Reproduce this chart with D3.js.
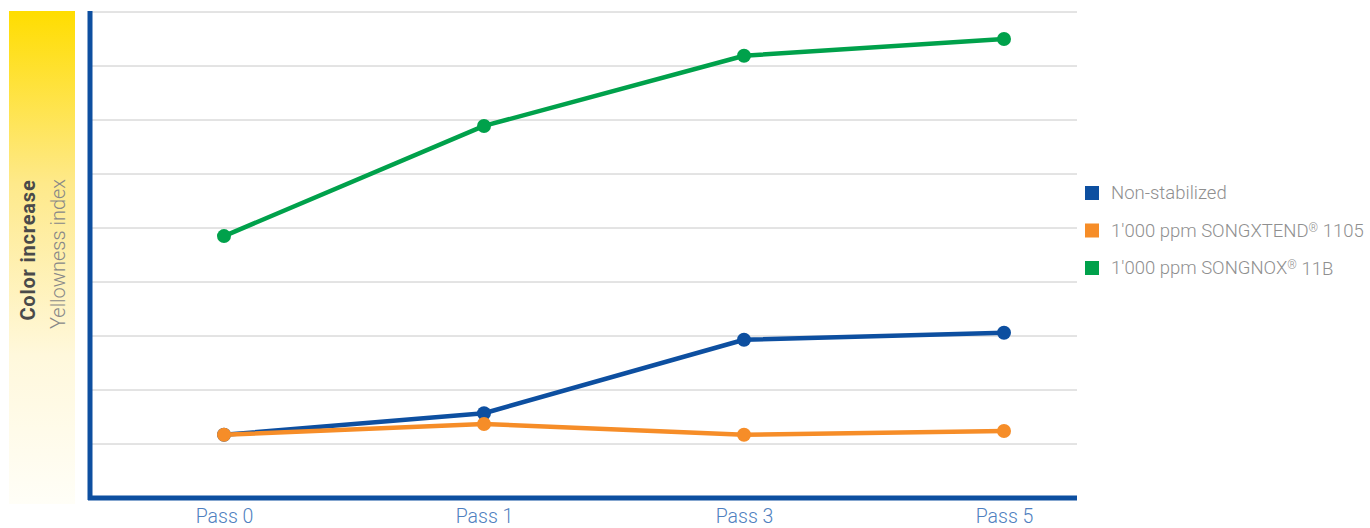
<!DOCTYPE html>
<html><head><meta charset="utf-8">
<script src="https://cdn.jsdelivr.net/npm/d3@7"></script>
<style>
html,body{margin:0;padding:0;background:#fff;}
svg{display:block;font-family:Roboto,"Liberation Sans",Arial,sans-serif;}
</style></head>
<body>
<svg id="c" width="1370" height="528"></svg>
<script>
const categories = ["Pass 0", "Pass 1", "Pass 3", "Pass 5"];
const seriesNames = ["Non-stabilized", "1'000 ppm SONGXTEND® 1105", "1'000 ppm SONGNOX® 11B"];
const nonStabilized = [1.17, 1.57, 2.93, 3.06];
const songxtend = [1.17, 1.37, 1.17, 1.24];
const songnox = [4.85, 6.89, 8.19, 8.5];
const gridValues = [1, 2, 3, 4, 5, 6, 7, 8, 9];
const colors = ["#0d4fa0", "#f68d28", "#00a14b"];

const svg = d3.select("#c");
const x = d3.scalePoint().domain(categories).range([224, 1004]);
const y = d3.scaleLinear().domain([0, 9]).range([498, 12]);

// gradient panel
const defs = svg.append("defs");
const g = defs.append("linearGradient").attr("id","yg").attr("x1",0).attr("y1",0).attr("x2",0).attr("y2",1);
g.append("stop").attr("offset","0%").attr("stop-color","#ffdd00");
g.append("stop").attr("offset","35%").attr("stop-color","#fee98a");
g.append("stop").attr("offset","70%").attr("stop-color","#fff8dc");
g.append("stop").attr("offset","100%").attr("stop-color","#fffef7");
svg.append("rect").attr("x",9).attr("y",11).attr("width",66).attr("height",493).attr("fill","url(#yg)");

svg.append("text").attr("transform","translate(35,250) rotate(-90)")
  .attr("text-anchor","middle").attr("font-size",20).attr("font-weight",700)
  .attr("fill","#4a4a4a").attr("letter-spacing","0.8").text("Color increase");
svg.append("text").attr("transform","translate(65,254) rotate(-90)")
  .attr("text-anchor","middle").attr("font-size",20).attr("font-weight",300)
  .attr("fill","#888").text("Yellowness index");

// gridlines
svg.append("g").selectAll("line").data(gridValues).join("line")
  .attr("x1",90).attr("x2",1077).attr("y1",d=>y(d)).attr("y2",d=>y(d))
  .attr("stroke","#c8c8c8").attr("stroke-width",1);

// axes
svg.append("line").attr("x1",90).attr("x2",90).attr("y1",11).attr("y2",500)
  .attr("stroke","#0d4fa0").attr("stroke-width",5);
svg.append("line").attr("x1",88).attr("x2",1077).attr("y1",y(0)).attr("y2",y(0))
  .attr("stroke","#0d4fa0").attr("stroke-width",5);

const xAxis = svg.append("g").attr("transform","translate(0,506)")
  .call(d3.axisBottom(x).tickSize(0).tickPadding(0));
xAxis.select(".domain").remove();
xAxis.selectAll("text").attr("font-size",19.5).attr("font-weight",300)
  .attr("fill","#4f7fc0").attr("font-family","Roboto,'Liberation Sans',Arial,sans-serif")
  .attr("dy","0.85em");

const allSeries = [nonStabilized, songxtend, songnox];
const line = d3.line().x((d,i)=>x(categories[i])).y(d=>y(d));
allSeries.forEach((s,k)=>{
  svg.append("path").datum(s).attr("d",line).attr("fill","none")
    .attr("stroke",colors[k]).attr("stroke-width",4.5).attr("stroke-linejoin","round");
  svg.append("g").selectAll("circle").data(s).join("circle")
    .attr("cx",(d,i)=>x(categories[i])).attr("cy",d=>y(d)).attr("r",7).attr("fill",colors[k]);
});

// legend
const lg = svg.append("g").attr("transform","translate(1085,193)");
seriesNames.forEach((n,i)=>{
  const row = lg.append("g").attr("transform",`translate(0,${i*37.5})`);
  row.append("rect").attr("x",0).attr("y",-7).attr("width",14).attr("height",14).attr("fill",colors[i]);
  const t = row.append("text").attr("x",26).attr("y",0).attr("dy","0.35em")
    .attr("font-size",18.5).attr("font-weight",300).attr("fill","#8f8f8f");
  const parts = n.split("®");
  t.append("tspan").text(parts[0]);
  if (parts.length > 1) {
    t.append("tspan").attr("font-size",12).attr("dy","-0.45em").text("®");
    t.append("tspan").attr("dy","0.3em").text(parts[1]);
  }
});
</script>
</body></html>
